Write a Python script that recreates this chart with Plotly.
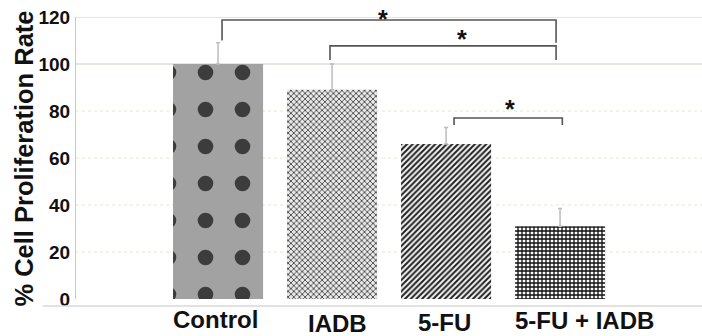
import plotly.graph_objects as go

categories = ["Control", "IADB", "5-FU", "5-FU + IADB"]
values = [100, 89, 66, 31]
errors = [9, 11, 7, 7.5]
y_ticks = [0, 20, 40, 60, 80, 100, 120]
# significance brackets: (left x, right x, top value, left leg bottom, right leg bottom)
brackets = [(0.035, 2.965, 118.7, 110, 109), (0.982, 2.965, 107.7, 101.7, 101.7), (2.07, 3.02, 77.0, 74.0, 74.0)]
# asterisk positions (x in category units, y in data units) and pixel nudges
star_x = [1.447, 2.14, 2.56]
star_y = [119.9, 111.5, 81.7]
star_shift = [-2, -2, -2]
star_text = "*"

patterns = [
    dict(shape=".", size=37, solidity=0.14, fgcolor="#3c3c3c", bgcolor="#a2a2a2", fillmode="replace"),
    dict(shape="x", size=4, solidity=0.4, fgcolor="#454545", bgcolor="#e8e8e8", fillmode="replace"),
    dict(shape="/", size=4, solidity=0.5, fgcolor="#222222", bgcolor="#f4f4f4", fillmode="replace"),
    dict(shape="+", size=4, solidity=0.55, fgcolor="#111111", bgcolor="#ffffff", fillmode="replace"),
]

fig = go.Figure()
for i, (c, v, e) in enumerate(zip(categories, values, errors)):
    fig.add_trace(go.Bar(
        x=[i], y=[v],
        marker=dict(color="#ffffff", pattern=patterns[i], line=dict(width=0)),
        error_y=dict(type="data", array=[e], arrayminus=[0], symmetric=False, visible=True,
                     color="#bdbdbd", thickness=1.5, width=2),
        width=0.79, showlegend=False, hoverinfo="skip",
    ))

# gridlines
for t in y_ticks:
    if t == 0:
        continue
    solid = t >= 100
    fig.add_shape(type="line", xref="paper", yref="y", x0=0, x1=1, y0=t, y1=t,
                  line=dict(color="#c3cfbd" if solid else "#e6e6d2", width=1,
                            dash="solid" if solid else "dot"), layer="below")

# brackets
for (xa, xb, top, la, lb) in brackets:
    fig.add_shape(type="path", xref="x", yref="y",
                  path=f"M {xa},{la} L {xa},{top} L {xb},{top} L {xb},{lb}",
                  line=dict(color="#555555", width=1.6))
for sx, sy, ss in zip(star_x, star_y, star_shift):
    fig.add_annotation(x=sx, y=sy, xref="x", yref="y",
                       text=f"<b>{star_text}</b>", showarrow=False, yanchor="middle", yshift=ss,
                       font=dict(size=25, color="#111111", family="Liberation Sans"))

# bottom line below plot
fig.add_shape(type="line", xref="paper", yref="paper", x0=-0.053, x1=1, y0=-0.025, y1=-0.025,
              line=dict(color="#d8d8d8", width=1.5))

# x labels
label_shift = [-3, 5.5, -2, 24.5]
label_y = [-0.0742, -0.0883, -0.0848, -0.076]
for i, c in enumerate(categories):
    fig.add_annotation(x=i, y=label_y[i], xref="x", yref="paper", text=f"<b>{c}</b>",
                       showarrow=False, xshift=label_shift[i], yanchor="middle",
                       font=dict(size=24, color="#111111", family="Liberation Sans"))

# y title
fig.add_annotation(x=-0.083, y=0.498, xref="paper", yref="paper", text="<b>% Cell Proliferation Rate</b>",
                   textangle=-90, showarrow=False, xanchor="center", yanchor="middle",
                   font=dict(size=25.5, color="#111111", family="Liberation Sans"))

fig.update_layout(
    width=702, height=336,
    margin=dict(l=76, r=0, t=17, b=37),
    plot_bgcolor="#ffffff", paper_bgcolor="#ffffff",
    bargap=0.21,
    xaxis=dict(range=[-1.246, 4.245], showticklabels=False, showgrid=False, zeroline=False,
               showline=False, fixedrange=True),
    yaxis=dict(range=[0, 120], tickvals=y_ticks, ticktext=[f"<b>{t}</b>" for t in y_ticks],
               showgrid=False, zeroline=False, showline=True, linecolor="#c8c8c8", linewidth=1,
               ticks="", ticklabelstandoff=1, fixedrange=True,
               tickfont=dict(size=19, color="#111111", family="Liberation Sans")),
)

fig.write_html("out.html", config={"displayModeBar": False},
               post_script="document.body.style.margin='0';document.body.style.overflow='hidden';")
